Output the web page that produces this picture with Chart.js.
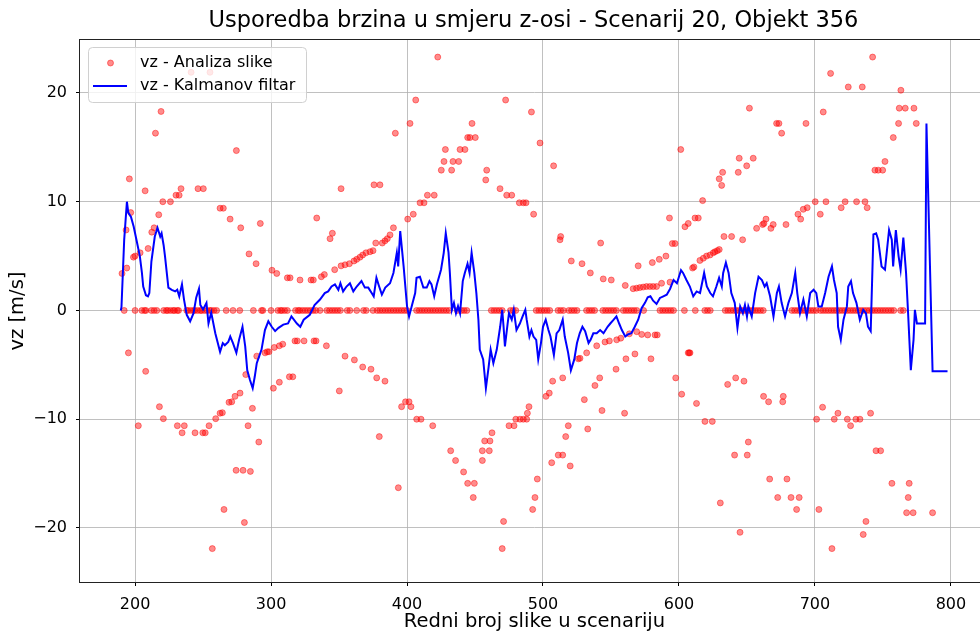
<!DOCTYPE html>
<html>
<head>
<meta charset="utf-8">
<script src="https://cdn.jsdelivr.net/npm/chart.js@4"></script>
<style>
html, body { margin: 0; padding: 0; background: #fff; overflow: hidden; }
#wrap { width: 1000px; height: 635px; }
</style>
</head>
<body>
<div id="wrap"><canvas id="myChart" width="1000" height="635"></canvas></div>
<script>
const chartTitle = 'Usporedba brzina u smjeru z-osi - Scenarij 20, Objekt 356'
const xTitle = 'Redni broj slike u scenariju'
const yTitle = 'vz [m/s]'

// vz - Analiza slike, frames with non-zero estimate
const imageFrames = [
  190.4, 193.4, 193.9, 195.8, 196.8, 198.8, 200, 203.7, 207.4, 209.6, 212.3, 214, 215, 217.4, 219.1, 220.4,
  226, 230.1, 232.4, 233.8, 241.2, 246.3, 250.2, 255.1, 262.5, 264.9, 269.9, 274.5, 277.7, 283.8, 289, 292.1,
  300.7, 304.2, 312, 314, 321.3, 329.4, 331.1, 333.6, 337, 339.2, 343.4, 345.1, 346.8, 351.5, 351.5, 354.4,
  357.6, 361, 363, 365.4, 367.4, 369.8, 372.8, 375, 375.7, 377, 380.1, 381.8, 383.8, 385.5, 387.5, 390,
  391.4, 400.5, 402.2, 404.6, 406.4, 409.6, 412.5, 415, 420, 422.6, 425.2, 427.2, 428.2, 432.8, 433.8, 438,
  439, 442.6, 444.6, 446.3, 447.8, 450.2, 457.9, 458.6, 468.4, 472.5, 473.3, 477, 482.6, 485.5, 487.5, 491.5,
  493.1, 497.8, 507.8, 512.5, 513, 520.8, 528.7, 534.8, 542.4, 544.3, 550.2, 560.5, 566.3, 568.8, 570, 571.2,
  573.7, 576.1, 578.6, 580.4, 581, 583.5, 585.5, 587.2, 590.4, 593, 593.4, 595.1, 597.1, 601.3, 604.4, 606.8,
  610, 611, 611.8, 614.2, 615.4, 617.4, 617.9, 620.3, 622.8, 625.2, 626.5, 628.2, 629.6, 629.6, 631.4, 632.1,
  633.1, 638.7, 643.6, 644.3, 646.8, 649.8, 651.8, 654.6, 657.1, 661.5, 662.5, 664, 667.6, 669.3, 671.8, 673.5,
  675.5, 678.7, 687.5, 689.5, 691.4, 693.4, 694.3, 700.2, 703.9, 706.1, 708.1, 711.5, 719.3, 722.2, 724.5, 730.6,
  734.8, 736.8, 738.4, 742.4, 744.1, 746.5, 749.8, 751.5, 757.6, 761.5, 762, 763.2, 766.4, 772.8, 774.5,
  // below zero
  195.1, 202.4, 207.8, 217.9, 220.8, 231.1, 234.6, 236.2, 244.1, 249.8, 251.6, 254.4, 256.8, 259.3, 262.5, 264.2,
  265.4, 269.1, 271.1, 273.5, 274.3, 277.2, 279.4, 280.4, 281.4, 283.1, 284.8, 286.3, 289.5, 291, 295.6, 297.2,
  298.5, 301.7, 302.4, 306.1, 306.1, 308.6, 313.5, 316, 317.6, 319.3, 324.3, 331.6, 333.1, 340.7, 350.2, 354.4,
  361.3, 367.4, 373.5, 377.7, 379.6, 383.8, 393.6, 396, 398.9, 401.5, 402.9, 407.1, 410.3, 418.9, 432.1, 435.7,
  441.6, 444.6, 448.7, 449.5, 455.4, 455.4, 457.1, 460.5, 461, 462.5, 470, 471, 475, 478.7, 480, 483.1,
  485.5, 488, 488.5, 489.7, 492.4, 494.1, 495.8, 502.2, 504.6, 506.4, 507.1, 511.2, 514.5, 514.5, 516.7, 518.6,
  520, 526, 527.2, 530.4, 532.1, 532.9, 538.2, 539.5, 541.7, 543.4, 545.6, 548.8, 553.7, 554.2, 557.2, 560,
  561, 563.5, 567.6, 568.9, 572.6, 577, 579.4, 582.4, 584, 597.6, 602, 606.8, 607.5, 608.1, 612.9, 619.1,
  624.5, 630.4, 635.8, 640.9, 641.7, 644.9, 647.8, 650.2, 651, 662.2, 665.9, 666.7, 672.6, 676.3, 676.7, 679.4,
  682.4, 686.5, 688.4, 701.2, 702.9, 705.6, 712.5, 714.2, 716.9, 723.8, 726.2, 730.1, 733.1, 735.5, 737.5, 740.9,
  744.9, 748.3, 756.6, 767.4, 768.6, 769.3, 772.2, 786.5
]
const imageVz = [
  3.4, 7.4, 3.9, 12.1, 9.0, 4.9, 5.0, 5.3, 11.0, 5.7, 7.2, 7.6, 16.3, 8.8, 18.3, 10.0,
  10.0, 10.6, 10.6, 11.2, 21.9, 11.2, 11.2, 21.9, 9.4, 9.4, 8.4, 14.7, 7.6, 5.2, 4.3, 8.0,
  3.7, 3.4, 3.0, 3.0, 2.8, 2.8, 2.8, 8.5, 3.1, 3.3, 6.6, 7.1, 3.75, 11.2, 4.1, 4.2,
  4.3, 4.55, 4.7, 4.9, 5.1, 5.3, 5.4, 5.5, 11.55, 6.2, 11.55, 6.2, 6.4, 6.6, 6.95, 7.6,
  16.3, 8.4, 17.2, 8.85, 19.35, 9.9, 9.9, 10.6, 10.6, 23.3, 12.9, 13.7, 14.8, 12.9, 13.7, 13.7,
  14.8, 14.8, 15.9, 15.9, 17.2, 15.9, 12.0, 12.9, 11.2, 19.35, 10.6, 10.6, 9.9, 9.9, 9.9, 18.25,
  8.85, 15.4, 13.3, 6.5, 6.8, 4.55, 4.3, 3.45, 6.2, 2.9, 2.8, 2.3, 2.0, 2.05, 4.1, 2.1,
  2.15, 2.2, 2.2, 4.4, 2.2, 2.2, 4.7, 2.5, 5.0, 8.5, 2.6, 6.15, 6.15, 14.8, 7.7, 8.0,
  3.9, 4.0, 8.5, 8.5, 4.6, 10.1, 4.8, 5.0, 5.1, 5.3, 5.4, 5.5, 5.6, 12.1, 11.5, 12.7,
  6.8, 6.8, 12.7, 14.0, 6.5, 13.3, 18.6, 14.0, 7.55, 7.9, 8.0, 8.4, 7.55, 7.9, 17.2, 17.2,
  16.3, 7.9, 8.85, 8.4, 9.3, 17.2, 9.45, 10.0, 8.85, 18.25, 10.0, 21.8, 9.45, 10.0, 20.55, 10.0,
  20.55, 10.0, 9.45, 23.3, 12.9, 12.9, 12.9, 13.7, 15.9, 17.2, 18.6, 20.25, 18.6, 18.6, 17.2,
  -3.9, -10.6, -5.6, -8.85, -9.95, -10.6, -11.25, -10.6, -11.25, -11.25, -11.25, -10.6, -21.9, -9.95, -9.45, -9.4,
  -18.3, -8.45, -8.4, -7.9, -14.7, -7.6, -14.7, -19.5, -5.9, -10.6, -14.8, -9.0, -4.2, -12.1, -3.9, -3.8,
  -3.8, -7.15, -3.4, -3.25, -6.6, -3.1, -6.1, -6.1, -2.8, -2.8, -2.8, -2.8, -2.8, -3.25, -7.4, -4.2,
  -4.55, -5.2, -5.4, -6.2, -11.6, -6.5, -16.3, -8.85, -8.4, -8.4, -8.85, -10.0, -10.0, -10.6, -12.9, -13.8,
  -14.85, -15.9, -17.2, -15.9, -13.8, -12.9, -12.0, -12.9, -12.0, -11.25, -21.9, -19.4, -10.6, -10.6, -10.0, -10.0,
  -10.0, -10.0, -9.45, -8.85, -18.3, -17.2, -15.5, -7.9, -7.6, -14.0, -6.5, -13.3, -6.2, -13.3, -11.6, -10.6,
  -14.3, -4.45, -4.4, -8.2, -3.9, -10.9, -6.9, -3.25, -6.2, -9.2, -2.9, -2.8, -5.4, -2.7, -2.55, -9.45,
  -4.45, -2.15, -4.0, -1.95, -2.2, -2.25, -4.45, -2.25, -2.25, -6.2, -7.7, -3.9, -3.9, -3.9, -8.55, -10.2,
  -10.2, -17.7, -6.8, -13.3, -6.2, -20.4, -6.5, -13.3, -12.1, -7.9, -8.4, -15.5, -17.2, -8.4, -7.9, -15.5,
  -17.2, -18.3, -17.2, -10.0, -18.3, -8.9, -21.9, -10.0, -9.45, -10.0, -10.6, -10.0, -10.0, -20.6, -19.4, -9.45,
  -12.9, -12.9, -15.9, -18.6, -17.2, -15.9, -18.6, -18.6
]
// vz - Analiza slike, frames where the estimate is 0
const zeroFrames = [
  192, 200, 205, 207, 208, 212, 214, 216, 221, 223, 224, 226, 228, 229, 231, 232, 238, 239, 241, 243,
  244, 246, 248, 249, 251, 253, 255, 256, 258, 260, 267, 272, 277, 287, 293, 294, 300, 305, 307, 308,
  310, 312, 318, 320, 321, 323, 325, 327, 329, 331, 333, 336, 341, 343, 345, 347, 349, 351, 356, 358,
  363, 368, 370, 375, 378, 380, 382, 384, 386, 388, 390, 392, 394, 396, 398, 400, 407, 409, 411, 413,
  415, 417, 419, 421, 423, 425, 427, 429, 431, 437, 440, 442, 444, 462, 464, 466, 468, 470, 476, 478,
  480, 495, 497, 499, 501, 503, 505, 511, 513, 515, 519, 521, 523, 525, 532, 534, 536, 538, 544, 546,
  548, 550, 552, 554, 559, 561, 563, 565, 567, 569, 574, 586, 588, 590, 592, 594, 596, 604, 612, 619,
  621, 623, 634, 636, 638, 640, 642, 644, 646, 648, 650, 652, 654, 656, 658, 660, 662, 683, 685, 687,
  689, 691, 693, 695, 697, 699, 701, 704, 706, 708, 710, 712, 714, 716, 718, 720, 722, 724, 726, 728,
  730, 732, 734, 736, 738, 740, 742, 744, 746, 748, 750, 752, 754, 756, 758, 763, 765
]

// vz - Kalmanov filtar
const kalmanFrames = [
  189.5, 190, 192, 194, 195, 197, 199, 201.5, 203.5, 205, 206, 208, 209.5, 210.5, 212, 214.5,
  216.5, 218.5, 219.5, 221, 222, 224.5, 227, 229.5, 231, 232.5, 234.5, 236, 238, 240.5, 243, 245,
  247, 248, 250, 252.5, 254, 256, 259, 262.5, 264.5, 266, 268.5, 270, 272, 274.5, 276.5, 279,
  281, 282.5, 284.5, 286.5, 288, 289.5, 293, 295.5, 298, 300.5, 303, 305.5, 309, 312.5, 315, 319,
  321.5, 324, 328.5, 332, 336, 339.5, 342, 344.5, 347, 349.5, 351, 353, 355.5, 358, 360.5, 363,
  366.5, 369, 371.5, 374, 375.5, 377.5, 379.5, 381.5, 384, 387.5, 390, 392.5, 393.5, 395, 397.5, 400,
  401.5, 403.5, 406, 407, 409.5, 412, 414.5, 416.5, 418, 420, 422, 425, 427, 428.5, 430.5, 431.5,
  433, 434.5, 436, 437.5, 439, 441, 442.5, 444.5, 446, 447.5, 449.5, 451, 452.5, 453.5, 456, 458,
  460, 461.5, 463.5, 466, 468.5, 470, 471, 472, 474, 475, 477, 478.5, 480.5, 483, 485, 487,
  488, 490, 491.5, 493, 495, 496.5, 498.5, 500, 502, 504, 505.5, 508, 510, 512, 514.5, 516,
  518.5, 520.5, 523, 525, 527, 529, 531, 533.5, 535, 537, 539.5, 542, 544.5, 547.5, 549.5, 552,
  554, 556, 558, 560.5, 562.5, 565, 567.5, 570, 572.5, 575, 577, 579, 581, 583.5, 586, 588.5,
  591, 593.5, 596, 598.5, 601.5, 603, 605.5, 608, 610.5, 613, 615.5, 618.5, 620.5, 623, 625, 627.5,
  629.5, 631.5, 632.5, 634.5, 636.5, 638.5, 641, 643, 645, 647, 648.5, 650, 651, 653.5, 656, 658.5,
  661, 663, 664.5, 667, 669.5, 672, 673.5, 675.5, 678, 680.5, 683, 685.5, 687, 689, 691.5, 694,
  696.5, 699, 701, 702.5, 705, 707.5, 710, 712.5, 714, 716, 717, 719, 721, 723.5, 724.5, 726.5,
  728, 730.5, 733, 735.5, 737.5, 739, 741, 743, 745, 746.5, 749, 751.5, 753, 754.5, 756.5, 757.5,
  759.5, 761.5, 763, 765, 767, 768.5, 770.5, 772.5, 773.5, 775, 781, 782, 786.5, 797.5
]
const kalmanVz = [
  0, 0.3, 6.5, 10.0, 9.0, 8.6, 7.7, 6.2, 5.0, 3.5, 2.2, 1.4, 1.3, 1.6, 4.5, 6.8,
  7.6, 6.8, 7.1, 6.0, 5.0, 2.1, 1.9, 1.75, 1.9, 1.3, 2.4, 1.0, -0.4, -1.0, -0.25, 1.2,
  2.0, 0.5, 0.1, 0.7, -1.2, -0.2, -2.1, -3.8, -3.0, -3.2, -2.9, -2.4, -3.0, -3.9, -2.7, -1.5,
  -3.3, -5.5, -6.4, -7.15, -6.1, -4.85, -3.6, -1.8, -1.0, -1.5, -1.9, -1.6, -1.3, -1.2, -0.55, -1.2,
  -1.5, -0.85, -0.4, 0.5, 1.0, 1.6, 1.75, 2.2, 2.4, 1.9, 2.5, 1.75, 2.2, 2.5, 1.75, 2.2,
  2.7, 2.1, 2.1, 1.6, 1.3, 3.0, 2.2, 1.45, 2.1, 2.5, 3.45, 5.3, 4.05, 7.3, 4.05, 0.4,
  -0.55, 0.4, 1.6, 3.0, 3.1, 2.1, 2.1, 2.7, 2.4, 1.3, 2.4, 3.75, 5.3, 7.1, 5.35, 3.45,
  0.06, 0.7, -0.25, 0.4, -0.25, 2.7, 3.45, 4.3, 3.45, 5.3, 3.45, 1.6, -0.85, -3.6, -4.5, -7.15,
  -5.2, -3.6, -4.85, -3.6, -1.5, 0.06, -1.5, -3.3, -1.2, -0.25, -0.85, 0.06, -1.8, -1.2, -0.55, 0.06,
  -0.85, -2.4, -1.8, -2.4, -2.7, -4.5, -3.0, -1.5, -0.85, -1.8, -2.4, -4.1, -2.1, -1.8, -0.85, -2.4,
  -3.9, -5.5, -4.5, -3.0, -2.1, -1.5, -1.9, -3.0, -2.7, -2.1, -2.1, -1.8, -2.1, -1.5, -1.2, -0.85,
  -0.55, -1.2, -1.8, -2.4, -2.2, -2.1, -1.5, -0.85, 0.2, 0.7, 1.2, 1.3, 0.9, 0.6, 1.15, 1.3,
  1.45, 2.0, 2.8, 2.5, 3.7, 3.45, 2.8, 2.2, 1.3, 1.75, 1.6, 3.45, 2.2, 1.6, 1.3, 2.2,
  3.0, 2.2, 3.45, 4.4, 3.45, 1.6, 0.7, -1.6, 0.37, -0.25, 0.5, -0.55, 0.37, -0.55, 1.6, 3.1,
  2.8, 2.2, 2.5, 1.3, -0.55, 1.6, 2.2, 0.7, -0.55, 0.7, 1.6, 3.45, 1.6, -0.25, 1.0, -0.55,
  1.6, 1.9, 1.6, 0.37, 0.37, 1.6, 3.1, 4.05, 2.8, 1.6, -1.5, -2.7, -0.85, 0.37, 2.2, 2.7,
  1.6, 0.7, -0.85, 0.06, -0.25, -1.5, -1.9, 7.0, 7.1, 6.5, 4.05, 3.75, 5.6, 7.4, 6.5, 4.05,
  7.4, 5.0, 3.75, 6.7, 3.45, -0.25, -5.5, -2.7, 0.06, -1.2, -1.2, 17.2, -5.6, -5.6
]

const xMin = 159.5
const xMax = 828
const yMin = -24.97
const yMax = 24.87

Chart.defaults.font.family = 'DejaVu Sans'
Chart.defaults.color = '#000'

let imagePoints = []
for (let i = 0; i < imageFrames.length; i++) {
    imagePoints.push({ x: imageFrames[i], y: imageVz[i] })
}
for (let i = 0; i < zeroFrames.length; i++) {
    imagePoints.push({ x: zeroFrames[i], y: 0 })
}
let kalmanPoints = kalmanFrames.map((f, i) => ({ x: f, y: kalmanVz[i] }))

const minusSign = (v) => v < 0 ? '\u2212' + Math.abs(v) : '' + v

// frame, title and a matplotlib-like legend box
const decorations = {
    id: 'decorations',
    afterDatasetsDraw(chart) {
        const ctx = chart.ctx
        const ds = chart.data.datasets
        ctx.save()
        ctx.beginPath()
        ctx.roundRect(88.5, 47.5, 218, 55, 4)
        ctx.fillStyle = 'rgba(255,255,255,0.8)'
        ctx.fill()
        ctx.strokeStyle = '#d0d0d0'
        ctx.lineWidth = 1
        ctx.stroke()

        ctx.beginPath()
        ctx.arc(110.5, 63, 3, 0, Math.PI * 2)
        ctx.fillStyle = ds[0].backgroundColor
        ctx.fill()
        ctx.strokeStyle = ds[0].borderColor
        ctx.stroke()

        ctx.beginPath()
        ctx.moveTo(93, 86)
        ctx.lineTo(127, 86)
        ctx.strokeStyle = ds[1].borderColor
        ctx.lineWidth = 2
        ctx.stroke()

        ctx.fillStyle = '#000'
        ctx.font = '16px "DejaVu Sans"'
        ctx.textBaseline = 'middle'
        ctx.fillText(ds[0].label, 140, 63)
        ctx.fillText(ds[1].label, 140, 86)
        ctx.restore()
    },
    afterDraw(chart) {
        const ctx = chart.ctx
        const a = chart.chartArea
        ctx.save()
        ctx.strokeStyle = '#222'
        ctx.lineWidth = 1
        ctx.strokeRect(Math.round(a.left) - 0.5, Math.round(a.top) - 0.5, a.right - a.left + 1, a.bottom - a.top + 1)
        ctx.fillStyle = '#000'
        ctx.font = '22.5px "DejaVu Sans"'
        ctx.textAlign = 'center'
        ctx.textBaseline = 'middle'
        ctx.fillText(chartTitle, (a.left + a.right) / 2 - 1, 21)
        ctx.restore()
    }
}

let myChart = document.querySelector('#myChart').getContext('2d')

let kalmanChart = new Chart(myChart, {
    type: 'scatter',
    data: {
        datasets: [{
            label: 'vz - Analiza slike',
            data: imagePoints,
            backgroundColor: 'rgba(255,0,0,0.45)',
            borderColor: 'rgba(255,0,0,0.45)',
            borderWidth: 1,
            pointRadius: 3,
            order: 1
        }, {
            label: 'vz - Kalmanov filtar',
            data: kalmanPoints,
            showLine: true,
            borderColor: '#0000ff',
            backgroundColor: '#0000ff',
            borderWidth: 2,
            pointRadius: 0,
            tension: 0,
            order: 0
        }]
    },
    options: {
        responsive: false,
        animation: false,
        layout: { padding: { top: 40, right: 11, left: 0, bottom: 0 } },
        plugins: {
            legend: { display: false },
            tooltip: { enabled: false }
        },
        scales: {
            x: {
                type: 'linear',
                min: xMin,
                max: xMax,
                afterFit: (s) => { s.height = 53 },
                ticks: { stepSize: 100, includeBounds: false, padding: 9, font: { size: 16 }, color: '#000' },
                grid: { color: '#b0b0b0', lineWidth: 0.8, tickLength: 4, tickColor: '#000', tickWidth: 1 },
                border: { display: false },
                title: { display: true, text: xTitle, font: { size: 19.5 }, color: '#000', padding: { top: 0, bottom: 1 } }
            },
            y: {
                min: yMin,
                max: yMax,
                afterFit: (s) => { s.width = 80 },
                ticks: { stepSize: 10, includeBounds: false, padding: 9, font: { size: 16 }, color: '#000', callback: minusSign },
                grid: { color: '#b0b0b0', lineWidth: 0.8, tickLength: 4, tickColor: '#000', tickWidth: 1 },
                border: { display: false },
                title: { display: true, text: yTitle, font: { size: 19.5 }, color: '#000', padding: { top: 6, bottom: 0 } }
            }
        }
    },
    plugins: [decorations]
})
</script>
</body>
</html>
